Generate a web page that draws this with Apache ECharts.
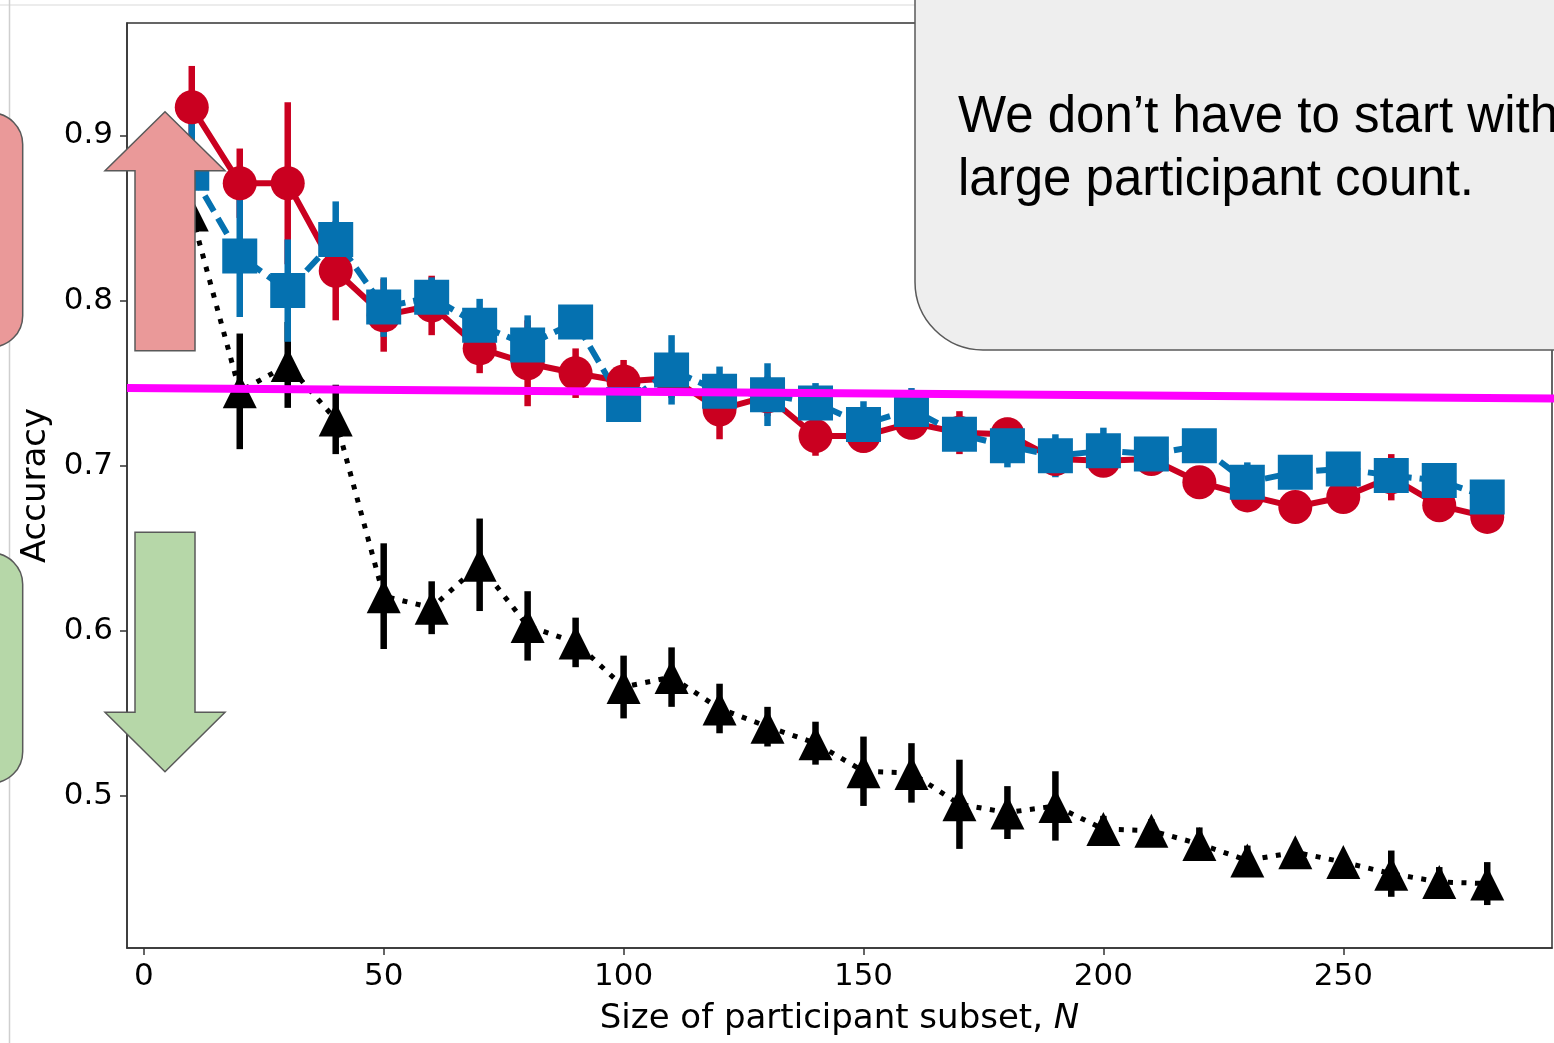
<!DOCTYPE html>
<html>
<head>
<meta charset="utf-8">
<title>Accuracy vs participant subset size</title>
<script src="https://cdn.jsdelivr.net/npm/echarts@6/dist/echarts.min.js"></script>
<style>
  html, body { margin: 0; padding: 0; background: #ffffff; }
  #chart { width: 1554px; height: 1043px; }
</style>
</head>
<body>
<div id="chart"></div>
<script>
// Subset sizes
const sizes = [10, 20, 30, 40, 50, 60, 70, 80, 90, 100, 110, 120, 130, 140,
               150, 160, 170, 180, 190, 200, 210, 220, 230, 240, 250, 260, 270, 280];

// Red series (solid line, circles): mean accuracy and error
const redMean = [0.917, 0.871, 0.871, 0.818, 0.791, 0.797, 0.771, 0.762, 0.756, 0.751,
                 0.753, 0.734, 0.742, 0.718, 0.718, 0.726, 0.720, 0.719, 0.704, 0.703,
                 0.704, 0.690, 0.682, 0.675, 0.681, 0.693, 0.676, 0.669];
const redErr  = [0.025, 0.021, 0.049, 0.030, 0.022, 0.018, 0.015, 0.026, 0.015, 0.013,
                 0.012, 0.018, 0.012, 0.012, 0.010, 0.010, 0.013, 0.010, 0.008, 0.008,
                 0.008, 0.008, 0.008, 0.008, 0.008, 0.014, 0.010, 0.008];

// Blue series (dashed line, squares)
const blueMean = [0.877, 0.827, 0.806, 0.837, 0.796, 0.802, 0.785, 0.773, 0.787, 0.737,
                  0.758, 0.745, 0.743, 0.738, 0.725, 0.734, 0.719, 0.712, 0.706, 0.709,
                  0.707, 0.712, 0.690, 0.696, 0.698, 0.694, 0.691, 0.681];
const blueErr  = [0.033, 0.037, 0.031, 0.023, 0.018, 0.012, 0.016, 0.018, 0.008, 0.010,
                  0.021, 0.015, 0.019, 0.012, 0.014, 0.013, 0.010, 0.013, 0.013, 0.014,
                  0.008, 0.008, 0.012, 0.010, 0.010, 0.009, 0.008, 0.008];

// Black series (dotted line, triangles)
const blackMean = [0.852, 0.745, 0.761, 0.728, 0.621, 0.614, 0.640, 0.603, 0.593, 0.566,
                   0.572, 0.553, 0.542, 0.532, 0.515, 0.514, 0.495, 0.490, 0.494, 0.480,
                   0.479, 0.471, 0.461, 0.466, 0.460, 0.453, 0.448, 0.447];
const blackErr  = [0.020, 0.035, 0.026, 0.021, 0.032, 0.016, 0.028, 0.021, 0.015, 0.019,
                   0.018, 0.015, 0.012, 0.013, 0.021, 0.018, 0.027, 0.016, 0.021, 0.008,
                   0.007, 0.010, 0.009, 0.005, 0.005, 0.014, 0.009, 0.013];

// Axis ticks
const xTicks = [0, 50, 100, 150, 200, 250];
const yTicks = [0.5, 0.6, 0.7, 0.8, 0.9];

const RED = '#ca0020';
const BLUE = '#0571b0';
const BLACK = '#000000';
const FRAME = '#333333';
const AXIS_FONT = 'DejaVu Sans';

function errorBars(mean, err, color) {
  return {
    type: 'custom',
    silent: true,
    animation: false,
    data: sizes.map((n, i) => [n, mean[i] - err[i], mean[i] + err[i]]),
    encode: { x: 0, y: [1, 2] },
    renderItem: function (params, api) {
      const top = api.coord([api.value(0), api.value(2)]);
      const bot = api.coord([api.value(0), api.value(1)]);
      return {
        type: 'line',
        shape: { x1: top[0], y1: top[1], x2: bot[0], y2: bot[1] },
        style: { stroke: color, lineWidth: 6.5, lineCap: 'butt' }
      };
    }
  };
}

function meanLine(mean, color, symbol, symbolSize, dash, width) {
  return {
    type: 'line',
    silent: true,
    animation: false,
    data: sizes.map((n, i) => [n, mean[i]]),
    symbol: symbol,
    symbolSize: symbolSize,
    showAllSymbol: true,
    itemStyle: { color: color, borderWidth: 0, opacity: 1 },
    lineStyle: { color: color, width: width, type: dash, cap: 'butt', join: 'miter' }
  };
}

const chart = echarts.init(document.getElementById('chart'), null, { renderer: 'canvas' });

chart.setOption({
  backgroundColor: '#ffffff',
  animation: false,
  grid: {
    left: 127, right: 2, top: 23, bottom: 95,
    show: true, borderColor: FRAME, borderWidth: 1.5, backgroundColor: 'transparent'
  },
  xAxis: {
    type: 'value',
    min: -3.5,
    max: 293.5,
    splitLine: { show: false },
    axisLine: { show: true, onZero: false, lineStyle: { color: FRAME, width: 1.5 } },
    axisTick: { show: true, length: 7, customValues: xTicks, lineStyle: { color: FRAME, width: 1.5 } },
    axisLabel: {
      customValues: xTicks,
      color: '#000', fontFamily: AXIS_FONT, fontSize: 31, margin: 13
    },
    name: '{a|Size of participant subset, }{i|N}',
    nameLocation: 'middle',
    nameGap: 54,
    nameTextStyle: {
      rich: {
        a: { fontFamily: AXIS_FONT, fontSize: 34, color: '#000' },
        i: { fontFamily: AXIS_FONT, fontSize: 34, color: '#000', fontStyle: 'italic' }
      }
    }
  },
  yAxis: {
    type: 'value',
    min: 0.408,
    max: 0.968,
    splitLine: { show: false },
    axisLine: { show: true, onZero: false, lineStyle: { color: FRAME, width: 1.5 } },
    axisTick: { show: true, length: 7, customValues: yTicks, lineStyle: { color: FRAME, width: 1.5 } },
    axisLabel: {
      customValues: yTicks,
      formatter: v => v.toFixed(1),
      color: '#000', fontFamily: AXIS_FONT, fontSize: 31, margin: 14
    },
    name: 'Accuracy',
    nameLocation: 'middle',
    nameGap: 74,
    nameTextStyle: { fontFamily: AXIS_FONT, fontSize: 34, color: '#000' }
  },
  series: [
    errorBars(blackMean, blackErr, BLACK),
    meanLine(blackMean, BLACK, 'triangle', [34, 34], [5, 8.5], 5),
    errorBars(redMean, redErr, RED),
    meanLine(redMean, RED, 'circle', 34, 'solid', 6),
    errorBars(blueMean, blueErr, BLUE),
    meanLine(blueMean, BLUE, 'rect', 35, [18, 8], 6)
  ],
  graphic: [
    // slide edge guides
    { type: 'line', z: 100, silent: true,
      shape: { x1: 0, y1: 5, x2: 915, y2: 5 },
      style: { stroke: '#e6e6e6', lineWidth: 1.5 } },
    { type: 'line', z: 100, silent: true,
      shape: { x1: 9.5, y1: 0, x2: 9.5, y2: 1043 },
      style: { stroke: '#cfcfcf', lineWidth: 1.5 } },
    // threshold line
    { type: 'line', z: 100, silent: true,
      shape: { x1: 127, y1: 388, x2: 1554, y2: 398.5 },
      style: { stroke: '#ff00ff', lineWidth: 8 } },
    // side panels
    { type: 'rect', z: 101, silent: true,
      shape: { x: -40, y: 113, width: 62.7, height: 234, r: 38 },
      style: { fill: '#ea9999', stroke: '#595959', lineWidth: 1.5 } },
    { type: 'rect', z: 101, silent: true,
      shape: { x: -40, y: 553, width: 62.7, height: 230, r: 38 },
      style: { fill: '#b6d7a8', stroke: '#595959', lineWidth: 1.5 } },
    // up arrow
    { type: 'polygon', z: 102, silent: true,
      shape: { points: [[165, 111.7], [225, 170.7], [195, 170.7], [195, 350.7],
                        [135, 350.7], [135, 170.7], [105, 170.7]] },
      style: { fill: '#ea9999', stroke: '#595959', lineWidth: 1.5 } },
    // down arrow
    { type: 'polygon', z: 102, silent: true,
      shape: { points: [[135, 532.3], [195, 532.3], [195, 712.3], [225, 712.3],
                        [165, 771.7], [105, 712.3], [135, 712.3]] },
      style: { fill: '#b6d7a8', stroke: '#595959', lineWidth: 1.5 } },
    // callout box
    { type: 'rect', z: 103, silent: true,
      shape: { x: 915, y: -30, width: 700, height: 380, r: [0, 0, 0, 68] },
      style: { fill: '#eeeeee', stroke: '#595959', lineWidth: 1.5 } },
    { type: 'text', z: 104, silent: true, x: 958, y: 118,
      style: { text: 'We don\u2019t have to start with', fill: '#000',
               font: '51px "Liberation Sans", Arial, sans-serif', verticalAlign: 'middle' } },
    { type: 'text', z: 104, silent: true, x: 958, y: 181,
      style: { text: 'large participant count.', fill: '#000',
               font: '51px "Liberation Sans", Arial, sans-serif', verticalAlign: 'middle' } }
  ]
});
</script>
</body>
</html>
